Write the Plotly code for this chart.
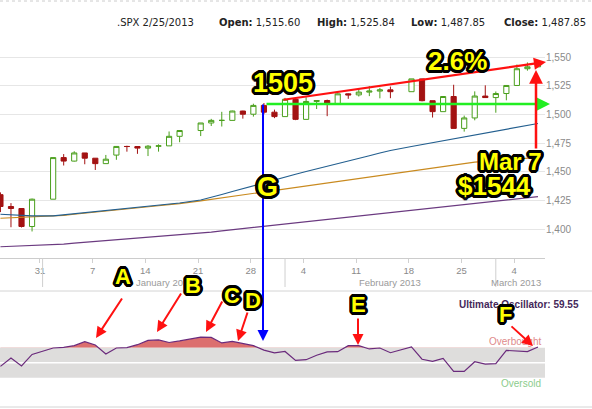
import math

import plotly.graph_objects as go

# trading days on the chart
dates = [
    "2012-12-26", "2012-12-27", "2012-12-28", "2012-12-31",
    "2013-01-02", "2013-01-03", "2013-01-04", "2013-01-07", "2013-01-08",
    "2013-01-09", "2013-01-10", "2013-01-11", "2013-01-14", "2013-01-15",
    "2013-01-16", "2013-01-17", "2013-01-18", "2013-01-22", "2013-01-23",
    "2013-01-24", "2013-01-25", "2013-01-28", "2013-01-29", "2013-01-30",
    "2013-01-31", "2013-02-01", "2013-02-04", "2013-02-05", "2013-02-06",
    "2013-02-07", "2013-02-08", "2013-02-11", "2013-02-12", "2013-02-13",
    "2013-02-14", "2013-02-15", "2013-02-19", "2013-02-20", "2013-02-21",
    "2013-02-22", "2013-02-25", "2013-02-26", "2013-02-27", "2013-02-28",
    "2013-03-01", "2013-03-04", "2013-03-05", "2013-03-06", "2013-03-07",
]
opens = [1430.15, 1419.83, 1418.10, 1402.43, 1426.19, 1462.42, 1459.37, 1466.47, 1461.89,
         1457.15, 1464.60, 1472.12, 1472.05, 1470.67, 1472.33, 1472.63, 1480.95, 1485.98,
         1492.56, 1494.81, 1494.82, 1502.96, 1500.18, 1507.84, 1501.96, 1498.11, 1513.17,
         1495.71, 1511.29, 1512.12, 1509.39, 1517.93, 1517.01, 1519.43, 1520.33, 1521.38,
         1519.79, 1530.94, 1511.95, 1502.42, 1515.60, 1487.85, 1496.94, 1515.99, 1514.68,
         1518.20, 1525.20, 1539.79, 1541.46]
highs = [1432.13, 1422.80, 1418.10, 1426.74, 1462.43, 1465.47, 1467.94, 1466.47, 1461.89,
         1464.73, 1472.30, 1472.75, 1472.05, 1473.31, 1473.96, 1485.16, 1485.98, 1492.56,
         1496.13, 1502.27, 1503.26, 1503.23, 1509.35, 1509.94, 1504.19, 1514.41, 1513.17,
         1514.96, 1512.53, 1512.90, 1518.31, 1518.31, 1522.29, 1524.69, 1523.14, 1524.24,
         1530.94, 1530.94, 1511.95, 1515.64, 1525.84, 1498.99, 1520.08, 1525.34, 1519.99,
         1525.27, 1543.47, 1545.25, 1545.78]
lows = [1414.94, 1401.80, 1401.58, 1398.11, 1426.19, 1455.53, 1458.99, 1456.62, 1451.64,
        1457.15, 1460.50, 1467.58, 1465.69, 1463.76, 1467.60, 1472.63, 1475.81, 1481.16,
        1489.90, 1489.46, 1494.82, 1496.33, 1498.09, 1500.11, 1496.76, 1498.11, 1495.02,
        1495.71, 1504.71, 1498.49, 1509.39, 1513.61, 1515.61, 1515.93, 1514.02, 1514.14,
        1519.79, 1511.41, 1497.29, 1502.42, 1487.85, 1485.01, 1494.88, 1514.46, 1501.48,
        1512.29, 1525.20, 1538.11, 1541.46]
closes = [1419.83, 1418.10, 1402.43, 1426.19, 1462.42, 1459.37, 1466.47, 1461.89, 1457.15,
          1461.02, 1472.12, 1472.05, 1470.68, 1472.34, 1472.63, 1480.94, 1485.98, 1492.56,
          1494.81, 1494.82, 1502.96, 1500.18, 1507.84, 1501.96, 1498.11, 1513.17, 1495.71,
          1511.29, 1512.12, 1509.39, 1517.93, 1517.01, 1519.43, 1520.33, 1521.38, 1519.79,
          1530.94, 1511.95, 1502.42, 1515.60, 1487.85, 1496.94, 1515.99, 1514.68, 1518.20,
          1525.20, 1539.79, 1541.46, 1544.26]

# moving averages
sma_blue = [1413.1, 1412.5, 1411.9, 1411.6, 1411.6, 1412.5, 1413.5, 1414.5, 1415.4,
            1416.3, 1417.2, 1418.2, 1419.1, 1420.0, 1421.0, 1421.9, 1422.9, 1425.5,
            1427.7, 1430.3, 1432.9, 1435.5, 1437.7, 1440.3, 1442.9, 1445.5, 1447.9,
            1450.3, 1452.5, 1454.8, 1457.1, 1459.5, 1461.8, 1464.0, 1466.4, 1468.6,
            1472.1, 1473.8, 1475.6, 1477.3, 1478.8, 1480.4, 1482.1, 1483.8, 1485.6,
            1487.1, 1488.9, 1490.5, 1492.1]
sma_orange = [1409.6, 1410.0, 1410.5, 1411.0, 1411.2, 1412.1, 1413.1, 1414.1, 1415.0,
              1415.9, 1416.8, 1417.8, 1418.7, 1419.6, 1420.5, 1421.4, 1422.3, 1424.8,
              1426.1, 1427.5, 1428.8, 1430.2, 1431.5, 1432.9, 1434.3, 1435.4, 1436.6,
              1437.9, 1439.2, 1440.4, 1441.7, 1443.0, 1444.3, 1445.6, 1446.9, 1448.2,
              1450.8, 1452.1, 1453.3, 1454.6, 1455.9, 1457.1, 1458.5, 1459.2, 1459.9,
              1460.6, 1461.2, 1461.9, 1462.6]
sma_purple = [1384.8, 1385.1, 1385.4, 1385.7, 1386.4, 1387.1, 1387.9, 1388.6, 1389.3,
              1390.0, 1390.7, 1391.5, 1392.2, 1392.9, 1393.6, 1394.4, 1395.1, 1396.6,
              1397.6, 1398.6, 1399.6, 1400.6, 1401.6, 1402.6, 1403.6, 1404.6, 1405.6,
              1406.6, 1407.6, 1408.6, 1409.6, 1410.6, 1411.6, 1412.5, 1413.6, 1414.5,
              1416.5, 1417.5, 1418.5, 1419.5, 1420.6, 1421.5, 1422.5, 1423.4, 1424.5,
              1425.4, 1426.5, 1427.4, 1428.4]

# ultimate oscillator
ult_osc = [45.1, 56.3, 45.6, 61.0, 69.6, 70.4, 72.7, 78.0, 73.6,
           61.6, 69.6, 70.0, 74.0, 79.7, 80.3, 76.9, 79.0, 84.0,
           83.7, 76.3, 78.4, 75.3, 72.7, 66.7, 63.0, 65.0, 53.0,
           54.0, 60.0, 64.3, 64.7, 72.7, 72.7, 68.3, 69.6, 63.3,
           71.0, 54.6, 51.7, 55.7, 38.4, 38.4, 51.3, 48.0, 48.7,
           66.4, 66.0, 64.7, 70.9]
overbought = 70
oversold = 30
midline = 50
osc_label = "Ultimate Oscillator: 59.55"

price_ticks = [1400, 1425, 1450, 1475, 1500, 1525, 1550]
tick_dates = ["2012-12-31", "2013-01-07", "2013-01-14", "2013-01-21", "2013-01-28",
              "2013-02-04", "2013-02-11", "2013-02-18", "2013-02-25", "2013-03-04"]
tick_text = ["31", "7", "14", "21", "28", "4", "11", "18", "25", "4"]
month_starts = ["2013-01-01", "2013-02-01", "2013-03-01"]
month_labels = ["January 2013", "February 2013", "March 2013"]
hover_date = "2013-02-25"

W, H = 592, 409
PW = 545  # plot area width in px
X_RANGE = ["2012-12-25 23:00", "2013-03-07 16:00"]


def px(x):
    return x / PW


def py(y):
    return 1 - y / H


def outline(w=3.0, c="#000"):
    parts = []
    for k in range(16):
        a = 2 * math.pi * k / 16
        parts.append(f"{w * math.cos(a):.1f}px {w * math.sin(a):.1f}px 0 {c}")
    return ", ".join(parts)


BIG = "Liberation Sans, Arial, sans-serif"
SANS = "Liberation Sans, Arial, sans-serif"

fig = go.Figure()

# moving averages
for vals, col in [(sma_purple, "#6b3a80"), (sma_orange, "#c98a1f"), (sma_blue, "#235f8f")]:
    fig.add_trace(go.Scatter(x=dates, y=vals, mode="lines", line=dict(color=col, width=1.2),
                             hoverinfo="skip", showlegend=False, xaxis="x", yaxis="y"))

fig.add_trace(go.Candlestick(
    x=dates, open=opens, high=highs, low=lows, close=closes,
    increasing=dict(line=dict(color="#4a9f1c", width=1), fillcolor="#ffffff"),
    decreasing=dict(line=dict(color="#a31212", width=1), fillcolor="#a31212"),
    whiskerwidth=0, showlegend=False, xaxis="x", yaxis="y",
))

# oscillator panel: red fill above overbought, grey band, midline, line
fig.add_trace(go.Scatter(x=dates, y=[overbought] * len(dates), mode="lines",
                         line=dict(width=0), hoverinfo="skip", showlegend=False,
                         xaxis="x2", yaxis="y2"))
fig.add_trace(go.Scatter(x=dates, y=ult_osc, mode="lines", line=dict(width=0),
                         fill="tonexty", fillcolor="#dc6f6f", hoverinfo="skip",
                         showlegend=False, xaxis="x2", yaxis="y2"))
fig.add_trace(go.Scatter(x=[X_RANGE[0], X_RANGE[1], X_RANGE[1], X_RANGE[0], X_RANGE[0]],
                         y=[overbought, overbought, oversold, oversold, overbought],
                         mode="lines", line=dict(width=0), fill="toself",
                         fillcolor="#dedddc", hoverinfo="skip", showlegend=False,
                         xaxis="x2", yaxis="y2"))
fig.add_trace(go.Scatter(x=X_RANGE, y=[midline, midline], mode="lines",
                         line=dict(color="#ffffff", width=1.5), hoverinfo="skip",
                         showlegend=False, xaxis="x2", yaxis="y2"))
fig.add_trace(go.Scatter(x=dates, y=ult_osc, mode="lines",
                         line=dict(color="#6a2a7c", width=1.2), hoverinfo="skip",
                         showlegend=False, xaxis="x2", yaxis="y2"))

annotations = []

# header with the hovered day
i = dates.index(hover_date)
m, d, yr = hover_date[5:7], hover_date[8:10], hover_date[:4]
header = [
    (115, f".SPX {int(m)}/{int(d)}/{yr}"),
    (217, f"<b>Open:</b> {opens[i]:,.2f}"),
    (315, f"<b>High:</b> {highs[i]:,.2f}"),
    (409, f"<b>Low:</b> {lows[i]:,.2f}"),
    (502, f"<b>Close:</b> {closes[i]:,.2f}"),
]
for hx, txt in header:
    annotations.append(dict(xref="paper", yref="paper", x=px(hx), y=py(22), text=txt,
                            showarrow=False, xanchor="left", yanchor="middle",
                            font=dict(family="DejaVu Sans, sans-serif", size=10, color="#222")))

# month labels under the date ticks
for mx, lab in zip([165, 390, 516], month_labels):
    annotations.append(dict(xref="paper", yref="paper", x=px(mx), y=py(282), text=lab,
                            showarrow=False, xanchor="center", yanchor="middle",
                            font=dict(family=SANS, size=9.5, color="#9a9a9a")))

# oscillator panel texts
annotations += [
    dict(xref="paper", yref="paper", x=px(543), y=py(341), text="Overbought",
         showarrow=False, xanchor="right", yanchor="middle",
         font=dict(family=SANS, size=10, color="#e08a8a")),
    dict(xref="paper", yref="paper", x=px(543), y=py(383), text="Oversold",
         showarrow=False, xanchor="right", yanchor="middle",
         font=dict(family=SANS, size=10, color="#8ccc8c")),
    dict(xref="paper", yref="paper", x=px(457), y=py(304), text=f"<b>{osc_label}</b>",
         showarrow=False, xanchor="left", yanchor="middle",
         font=dict(family=SANS, size=10, color="#45285a")),
]


def arrow(tail, tip, color, width):
    return dict(xref="paper", yref="paper", x=px(tip[0]), y=py(tip[1]),
                ax=tail[0] - tip[0], ay=tail[1] - tip[1], text="", showarrow=True,
                arrowhead=2, arrowsize=1.1, arrowwidth=width, arrowcolor=color,
                standoff=0, startstandoff=0)


annotations += [
    arrow((263, 103), (263, 341), "#0000ff", 2),
    arrow((265, 104), (550, 104), "#22ee22", 2.5),
    arrow((282, 100), (546, 62), "#ff1111", 2.2),
    arrow((536, 150), (536, 70), "#ff1111", 2.5),
    arrow((123, 297), (96, 338), "#ff1111", 2),
    arrow((182, 292), (157, 332), "#ff1111", 2),
    arrow((223, 300), (206, 332), "#ff1111", 2),
    arrow((248, 311), (238, 341), "#ff1111", 2),
    arrow((358, 317), (358, 345), "#ff1111", 2),
    arrow((510, 325), (533, 346), "#ff1111", 2),
]

shadow = outline()
big_labels = [
    ("1505", 283, 83, 27), ("2.6%", 457, 61, 26), ("G", 267, 187, 27),
    ("Mar 7", 510, 162, 24), ("$1544", 494, 186, 26),
    ("A", 123, 276, 22), ("B", 193, 285, 22), ("C", 232, 295, 22),
    ("D", 253, 300, 22), ("E", 358, 304, 22), ("F", 505, 314, 22),
]
for txt, bx, by, size in big_labels:
    annotations.append(dict(xref="paper", yref="paper", x=px(bx), y=py(by),
                            text=f"<b>{txt}</b>", showarrow=False,
                            xanchor="center", yanchor="middle",
                            font=dict(family=BIG, size=size, color="#ffff00", shadow=shadow)))

shapes = [
    dict(type="line", xref="paper", yref="paper", x0=0, x1=W / PW, y0=py(1), y1=py(1),
         line=dict(color="#cccccc", width=1, dash="dot")),
    dict(type="line", xref="paper", yref="paper", x0=0, x1=W / PW, y0=py(291), y1=py(291),
         line=dict(color="#d4d4d4", width=1)),
    dict(type="line", xref="paper", yref="paper", x0=0, x1=W / PW, y0=py(407), y1=py(407),
         line=dict(color="#d4d4d4", width=1)),
]
for ms in month_starts:
    shapes.append(dict(type="line", xref="x", yref="paper", x0=ms, x1=ms,
                       y0=py(287), y1=py(258), line=dict(color="#cfcfcf", width=1)))

breaks = [dict(bounds=["sat", "mon"])]

fig.update_layout(
    width=W, height=H,
    margin=dict(l=0, r=W - PW, t=0, b=0),
    paper_bgcolor="#ffffff", plot_bgcolor="#ffffff",
    showlegend=False,
    xaxis=dict(
        domain=[0, 1], anchor="y", type="date", range=X_RANGE, rangebreaks=breaks,
        rangeslider=dict(visible=False),
        tickvals=[t + " 18:00" for t in tick_dates], ticktext=tick_text,
        showgrid=False, showline=True, linecolor="#cccccc", linewidth=1,
        ticks="outside", ticklen=4, tickcolor="#d0d0d0",
        tickfont=dict(family=SANS, size=9.5, color="#8a8a8a"),
        zeroline=False,
    ),
    yaxis=dict(
        domain=[py(258), py(40)], anchor="x", range=[1375.0, 1564.8], side="right",
        tickvals=price_ticks, tickformat=",d", showgrid=True, gridcolor="#e6e6e6",
        gridwidth=1, zeroline=False, showline=False, ticks="",
        tickfont=dict(family=SANS, size=10, color="#8a8a8a"),
    ),
    xaxis2=dict(
        domain=[0, 1], anchor="y2", type="date", range=X_RANGE, rangebreaks=breaks,
        matches="x", showticklabels=False, showgrid=False, zeroline=False, showline=False,
    ),
    yaxis2=dict(
        domain=[py(407), py(291)], anchor="x2", range=[-9.1, 145.6],
        showticklabels=False, showgrid=False, zeroline=False, showline=False,
    ),
    annotations=annotations,
    shapes=shapes,
)

fig.write_html("out.html", config={"displayModeBar": False},
               post_script="document.body.style.margin='0';")
